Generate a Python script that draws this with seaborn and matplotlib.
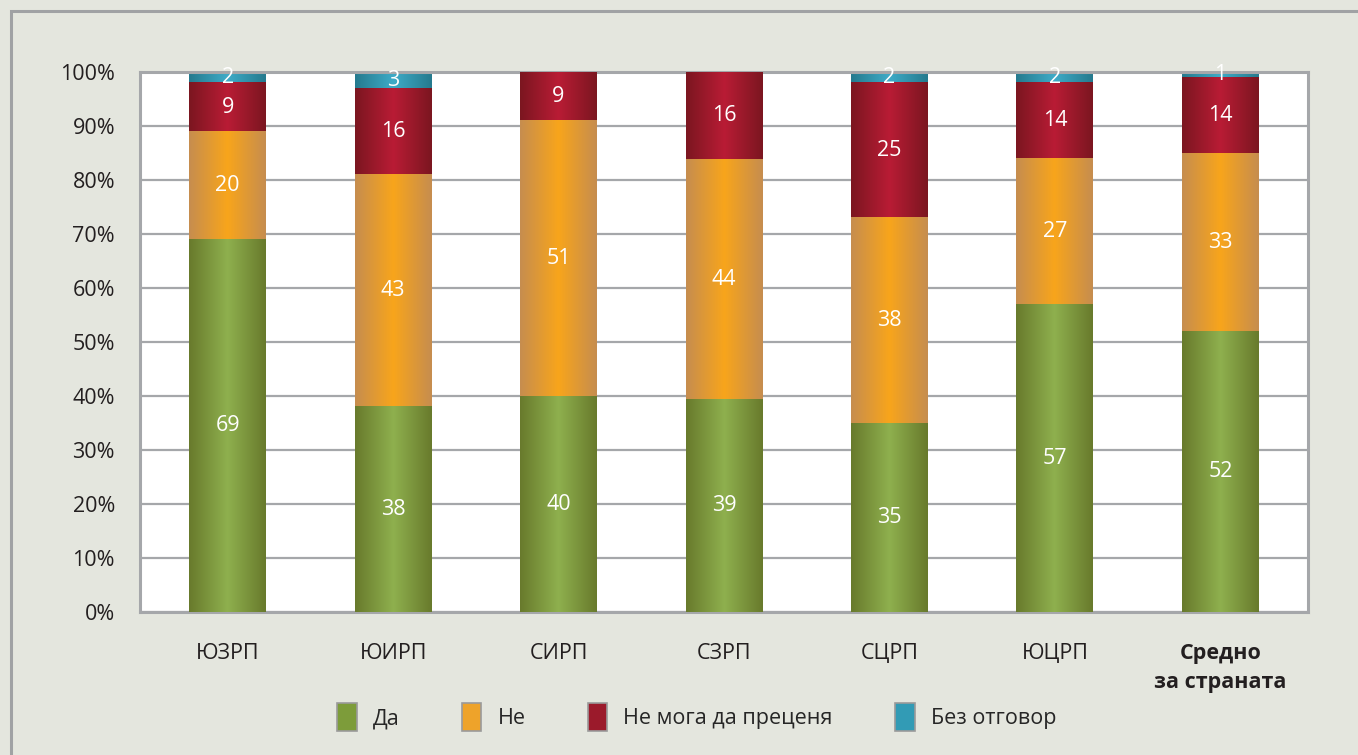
import matplotlib
matplotlib.use("Agg")
import matplotlib.pyplot as plt
import matplotlib.patches as mpatches
from matplotlib.colors import LinearSegmentedColormap
import numpy as np
import pandas as pd
import seaborn as sns

# data (percent of answers per region)
regions = ["ЮЗРП", "ЮИРП", "СИРП", "СЗРП", "СЦРП", "ЮЦРП", "Средно\nза страната"]
series_names = ["Да", "Не", "Не мога да преценя", "Без отговор"]
da = [69, 38, 40, 39, 35, 57, 52]
ne = [20, 43, 51, 44, 38, 27, 33]
ne_moga = [9, 16, 9, 16, 25, 14, 14]
bez_otgovor = [2, 3, 0, 0, 2, 2, 1]

# gradient colours per series: (edge, centre)
grad_colors = [("#687a2c", "#8fb04e"),
               ("#c68d4f", "#f8a51b"),
               ("#7b1620", "#b91c35"),
               ("#257a8e", "#3eabc7")]
flat_colors = ["#7d9c3a", "#eea32a", "#9b1a2b", "#329bb5"]

sns.set_theme(style="white")
plt.rcParams["font.family"] = ["Open Sans", "DejaVu Sans"]
FS = 15.5

df = pd.DataFrame({"region": regions, "Да": da, "Не": ne,
                   "Не мога да преценя": ne_moga, "Без отговор": bez_otgovor})
vals = df[series_names].to_numpy(dtype=float)
shares = vals / vals.sum(axis=1, keepdims=True) * 100  # 100% stacked
cum = np.cumsum(shares, axis=1)

fig = plt.figure(figsize=(13.58, 7.55), dpi=100)
fig.patch.set_facecolor("#e4e6de")
ax = fig.add_axes([140 / 1358, 143 / 755, 1168 / 1358, 540 / 755])
ax.set_facecolor("white")

grid_col = "#a5a7aa"
ax.set_ylim(0, 100)
ax.set_yticks(np.arange(0, 101, 10))
ax.yaxis.grid(True, color=grid_col, lw=1.6, zorder=0)
ax.set_axisbelow(True)

# overlay bars from the top series down, each one drawn over the previous
for i in range(len(series_names) - 1, -1, -1):
    n0 = len(ax.patches)
    plot_df = pd.DataFrame({"region": regions, "top": cum[:, i]})
    sns.barplot(data=plot_df, x="region", y="top", color=flat_colors[i],
                width=0.465, ax=ax, zorder=2 + (3 - i) * 2, linewidth=0)
    cmap = LinearSegmentedColormap.from_list(
        "g%d" % i, [grad_colors[i][0], grad_colors[i][1], grad_colors[i][0]])
    for p in ax.patches[n0:]:
        x0, w, h = p.get_x(), p.get_width(), p.get_height()
        if h <= 0:
            continue
        ax.imshow(np.linspace(0, 1, 256)[None, :], cmap=cmap, aspect="auto",
                  extent=[x0, x0 + w, 0, h], interpolation="bilinear",
                  zorder=2.5 + (3 - i) * 2)

ax.set_xlim(-0.53, 6.53)
ax.set_ylim(0, 100)
ax.set_xlabel("")
ax.set_ylabel("")

# value labels
for j in range(len(regions)):
    bottom = 0
    for i in range(len(series_names)):
        v = vals[j, i]
        if v > 0:
            ax.text(j, bottom + shares[j, i] / 2, "%d" % v, ha="center", va="center",
                    color="white", fontsize=FS, zorder=20)
        bottom += shares[j, i]

ax.set_yticklabels(["%d%%" % t for t in range(0, 101, 10)], fontsize=FS, color="#231f20")
ax.tick_params(axis="y", length=0, pad=18)
ax.tick_params(axis="x", length=0, pad=22, labelsize=FS, labelcolor="#231f20")
ax.set_xticks(range(len(regions)))
ax.set_xticklabels(regions)
last = ax.get_xticklabels()[-1]
last.set_fontweight("bold")
last.set_linespacing(1.55)

for s in ax.spines.values():
    s.set_visible(True)
    s.set_color(grid_col)
    s.set_linewidth(2.2)

# legend
handles = [mpatches.Patch(facecolor=flat_colors[i], edgecolor="#9a9a9a", lw=1.2,
                          label=series_names[i]) for i in range(4)]
fig.legend(handles=handles, loc="center", bbox_to_anchor=(0.513, 0.05), ncol=4,
           frameon=False, fontsize=FS, handlelength=0.9, handleheight=1.65,
           columnspacing=2.9, handletextpad=0.75)

# outer frame
fig.add_artist(mpatches.Rectangle((10.5 / 1358, -0.1), 1.2, (755 - 10.5) / 755 + 0.1,
                                  transform=fig.transFigure, fill=False,
                                  edgecolor="#a0a2a4", lw=2.2))

fig.savefig("out.png", dpi=100, facecolor=fig.get_facecolor())
